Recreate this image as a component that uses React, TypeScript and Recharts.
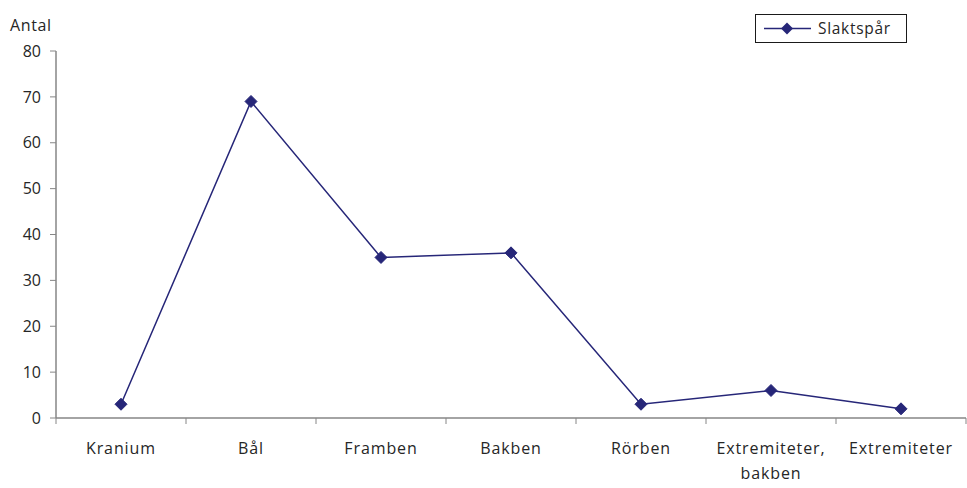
import React from 'react';
import { LineChart, Line, XAxis, YAxis, Legend } from 'recharts';

const categories = ['Kranium', 'Bål', 'Framben', 'Bakben', 'Rörben', 'Extremiteter, bakben', 'Extremiteter'];
const slaktspar = [3, 69, 35, 36, 3, 6, 2];
const yTicks = [0, 10, 20, 30, 40, 50, 60, 70, 80];
const boundaryTicks = [0, 1, 2, 3, 4, 5, 6, 7];

const data = categories.map((c, i) => ({ name: c, value: slaktspar[i] }));

const LINE = '#262678';
const AXIS = '#868686';
const TEXT = '#262626';
const FONT = '"Open Sans", sans-serif';

const Diamond = (props: any) => {
  const { cx, cy } = props;
  if (cx == null || cy == null) return null;
  const r = 6;
  return <polygon points={`${cx},${cy - r} ${cx + r},${cy} ${cx},${cy + r} ${cx - r},${cy}`} fill={LINE} stroke={LINE} />;
};

const CatTick = (props: any) => {
  const { x, y, payload } = props;
  const label: string = payload.value;
  const lines = label === 'Extremiteter, bakben' ? ['Extremiteter,', 'bakben'] : [label];
  return (
    <text x={x} y={y} textAnchor="middle" fill={TEXT} fontFamily={FONT} fontSize={16} letterSpacing={0.9}>
      {lines.map((l, i) => (
        <tspan key={i} x={x} y={y + 36 + i * 25}>{l}</tspan>
      ))}
    </text>
  );
};

const BoundaryTick = (props: any) => {
  const { x, y } = props;
  return <line x1={x} y1={y} x2={x} y2={y + 6} stroke={AXIS} strokeWidth={1} />;
};

const LegendContent = () => (
  <div style={{ width: 152, height: 29, border: '1px solid #1a1a1a', background: '#fff', position: 'relative', boxSizing: 'border-box' }}>
    <svg width={60} height={27} style={{ position: 'absolute', left: 0, top: 0 }}>
      <line x1={8} y1={13.5} x2={55} y2={13.5} stroke={LINE} strokeWidth={1.5} />
      <polygon points="31,7.5 37,13.5 31,19.5 25,13.5" fill={LINE} />
    </svg>
    <span style={{ position: 'absolute', left: 62, top: 2, fontFamily: FONT, fontSize: 15.5, color: TEXT, letterSpacing: 0.7, whiteSpace: 'nowrap' }}>Slaktspår</span>
  </div>
);

export default function App() {
  return (
    <div style={{ position: 'absolute', left: 0, top: 0, width: 967, height: 488, background: '#fff' }}>
      <LineChart width={967} height={488} data={data} margin={{ top: 51, right: 1, bottom: 0, left: 0 }}>
        <XAxis
          xAxisId="cat"
          dataKey="name"
          scale="band"
          axisLine={{ stroke: AXIS, strokeWidth: 1.5 }}
          tickLine={false}
          tickSize={0}
          tickMargin={0}
          tick={<CatTick />}
          interval={0}
          height={70}
        />
        <XAxis
          xAxisId="b"
          type="number"
          dataKey={() => 0}
          domain={[0, 7]}
          ticks={boundaryTicks}
          axisLine={false}
          tickLine={false}
          tickSize={0}
          tickMargin={0}
          tick={<BoundaryTick />}
          interval={0}
          height={1}
          orientation="bottom"
          mirror
          allowDataOverflow
        />
        <YAxis
          domain={[0, 80]}
          ticks={yTicks}
          axisLine={{ stroke: AXIS, strokeWidth: 1.5 }}
          tickLine={{ stroke: AXIS }}
          tickSize={6}
          tickMargin={9}
          width={56}
          tick={{ fill: TEXT, fontFamily: FONT, fontSize: 16 }}
          label={{
            content: () => (
              <text x={10} y={31} fill={TEXT} fontFamily={FONT} fontSize={16} letterSpacing={0.6}>Antal</text>
            ),
          }}
        />
        <Legend
          layout="horizontal"
          verticalAlign="middle"
          align="center"
          content={<LegendContent />}
          wrapperStyle={{ position: 'absolute', left: 755, top: 14, width: 'auto' }}
        />
        <Line
          xAxisId="cat"
          dataKey="value"
          name="Slaktspår"
          stroke={LINE}
          strokeWidth={1.5}
          dot={<Diamond />}
          activeDot={false}
          isAnimationActive={false}
        />
      </LineChart>
    </div>
  );
}
